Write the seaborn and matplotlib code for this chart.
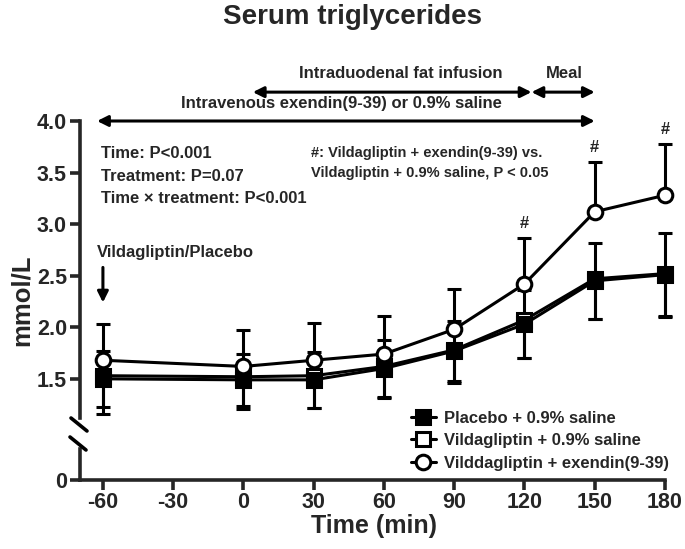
import numpy as np
import pandas as pd
import matplotlib
matplotlib.use('Agg')
import matplotlib.pyplot as plt
from matplotlib.lines import Line2D
import seaborn as sns

# sampling times (min)
times = [-60, 0, 30, 60, 90, 120, 150, 180]

# means and SD (mmol/L)
placebo_mean = [1.50, 1.49, 1.49, 1.60, 1.77, 2.03, 2.45, 2.51]
placebo_sd = [0.27, 0.25, 0.27, 0.28, 0.29, 0.33, 0.37, 0.40]
saline_mean = [1.53, 1.52, 1.53, 1.62, 1.78, 2.07, 2.47, 2.52]
saline_sd = [0.37, 0.31, 0.31, 0.31, 0.32, 0.37, 0.39, 0.42]
exendin_mean = [1.68, 1.62, 1.68, 1.74, 1.98, 2.42, 3.12, 3.28]
exendin_sd = [0.35, 0.35, 0.36, 0.37, 0.39, 0.45, 0.48, 0.50]

groups = ['Placebo + 0.9% saline',
          'Vildagliptin + 0.9% saline',
          'Vilddagliptin + exendin(9-39)']

yticks = [1.5, 2.0, 2.5, 3.0, 3.5, 4.0]
xticks = [-60, -30, 0, 30, 60, 90, 120, 150, 180]


def main():
    sns.set_style('ticks')
    plt.rcParams['font.family'] = ['Liberation Sans', 'DejaVu Sans']
    plt.rcParams['font.weight'] = 'bold'

    df = pd.DataFrame({
        'time': times * 3,
        'value': placebo_mean + saline_mean + exendin_mean,
        'group': [groups[0]] * 8 + [groups[1]] * 8 + [groups[2]] * 8,
    })

    fig = plt.figure(figsize=(6.85, 5.49), dpi=100)
    W, H = 685, 549

    def fx(px):
        return px / W

    def fy(py):
        return 1 - py / H

    left, right = 79.5, 665
    ax = fig.add_axes([fx(left), fy(418), fx(right - left), fy(121) - fy(418)])
    axb = fig.add_axes([fx(left), fy(480), fx(right - left), fy(449) - fy(480)])

    # error bars: circles above only, filled squares both ways, open squares below only
    zero = np.zeros(len(times))
    err = [
        (saline_mean, [saline_sd, zero]),
        (placebo_mean, [placebo_sd, placebo_sd]),
        (exendin_mean, [zero, exendin_sd]),
    ]
    for mean, yerr in err:
        cont = ax.errorbar(times, mean, yerr=yerr, fmt='none', ecolor='black',
                           elinewidth=2.2, capsize=5, capthick=2.2, zorder=2)
        for art in cont.get_children():
            art.set_clip_on(False)

    styles = {
        groups[1]: dict(marker='s', mfc='white', z=3),
        groups[0]: dict(marker='s', mfc='black', z=4),
        groups[2]: dict(marker='o', mfc='white', z=5),
    }
    for g in [groups[1], groups[0], groups[2]]:
        st = styles[g]
        sns.lineplot(data=df[df['group'] == g], x='time', y='value', ax=ax,
                     color='black', lw=2.2, marker=st['marker'], markersize=10.5,
                     markerfacecolor=st['mfc'], markeredgecolor='black',
                     markeredgewidth=2.2, errorbar=None, legend=False,
                     clip_on=False, zorder=st['z'])

    # axes styling
    for a in (ax, axb):
        a.set_xlim(-70, 180)
        a.spines['top'].set_visible(False)
        a.spines['right'].set_visible(False)
        a.spines['left'].set_linewidth(2.6)
        a.spines['bottom'].set_linewidth(2.6)
        a.tick_params(width=2.6, length=7, labelsize=15.5, pad=2)
        a.set_xlabel('')
        a.set_ylabel('')
        a.patch.set_alpha(0)

    ax.set_ylim(1.12, 4.0)
    ax.set_yticks(yticks)
    ax.set_yticklabels(['%.1f' % v for v in yticks], fontweight='bold')
    ax.spines['bottom'].set_visible(False)
    ax.tick_params(axis='x', bottom=False, labelbottom=False)

    axb.set_ylim(0, 0.3)
    axb.set_yticks([0])
    axb.set_yticklabels(['0'], fontweight='bold')
    axb.set_xticks(xticks)
    axb.set_xticklabels([str(t) for t in xticks], fontweight='bold')

    # break marks on the y axis
    for (x0, y0, x1, y1) in [(71, 418, 87, 431), (70, 437, 86, 450)]:
        fig.add_artist(Line2D([fx(x0), fx(x1)], [fy(y0), fy(y1)],
                              color='black', lw=2.6, transform=fig.transFigure))

    # labels and title
    fig.text(fx(353), fy(17), 'Serum triglycerides', ha='center', va='center',
             fontsize=20, fontweight='bold')
    fig.text(fx(22), fy(300), 'mmol/L', ha='center', va='center', rotation=90,
             fontsize=18.5, fontweight='bold')
    fig.text(fx(374), fy(526), 'Time (min)', ha='center', va='center',
             fontsize=18, fontweight='bold')

    # protocol arrows
    arrow = dict(arrowstyle='<|-|>', color='black', lw=2.2, mutation_scale=16,
                 shrinkA=0, shrinkB=0)
    ax.annotate('', xy=(150, 4.0), xytext=(-62.5, 4.0), arrowprops=arrow,
                annotation_clip=False)
    ax.annotate('', xy=(123, 4.28), xytext=(4, 4.28), arrowprops=arrow,
                annotation_clip=False)
    ax.annotate('', xy=(150, 4.28), xytext=(123, 4.28), arrowprops=arrow,
                annotation_clip=False)
    ax.text(42, 4.17, 'Intravenous exendin(9-39) or 0.9% saline', ha='center',
            va='center', fontsize=12, fontweight='bold', clip_on=False)
    ax.text(67, 4.46, 'Intraduodenal fat infusion', ha='center', va='center',
            fontsize=12, fontweight='bold', clip_on=False)
    ax.text(137, 4.46, 'Meal', ha='center', va='center', fontsize=12,
            fontweight='bold', clip_on=False)

    # statistics
    stats = ['Time: P<0.001', 'Treatment: P=0.07', 'Time \u00d7 treatment: P<0.001']
    for i, s in enumerate(stats):
        ax.text(-61, 3.68 - i * 0.215, s, ha='left', va='center', fontsize=12,
                fontweight='bold')
    ax.text(29, 3.69, '#: Vildagliptin + exendin(9-39) vs.', ha='left',
            va='center', fontsize=10.5, fontweight='bold')
    ax.text(29, 3.50, 'Vildagliptin + 0.9% saline, P < 0.05', ha='left',
            va='center', fontsize=10.5, fontweight='bold')
    for t in [120, 150, 180]:
        i = times.index(t)
        ax.text(t, exendin_mean[i] + exendin_sd[i] + 0.14, '#', ha='center',
                va='center', fontsize=12, fontweight='bold', clip_on=False)

    ax.text(-62.5, 2.72, 'Vildagliptin/Placebo', ha='left', va='center',
            fontsize=12, fontweight='bold')
    ax.annotate('', xy=(-60, 2.24), xytext=(-60, 2.58),
                arrowprops=dict(arrowstyle='-|>', color='black', lw=2.2,
                                mutation_scale=16, shrinkA=0, shrinkB=0))

    # legend
    handles = [
        Line2D([], [], color='black', lw=2.2, marker='s', markersize=10.5,
               markerfacecolor='black', markeredgecolor='black', markeredgewidth=2.2),
        Line2D([], [], color='black', lw=2.2, marker='s', markersize=10.5,
               markerfacecolor='white', markeredgecolor='black', markeredgewidth=2.2),
        Line2D([], [], color='black', lw=2.2, marker='o', markersize=10.5,
               markerfacecolor='white', markeredgecolor='black', markeredgewidth=2.2),
    ]
    fig.legend(handles, groups, loc='upper left',
               bbox_to_anchor=(fx(404), fy(404)), frameon=False,
               prop=dict(size=12, weight='bold'), handlelength=1.5,
               handletextpad=0.5, labelspacing=0.45, borderaxespad=0)

    fig.savefig('out.png', dpi=100)


if __name__ == '__main__':
    main()
